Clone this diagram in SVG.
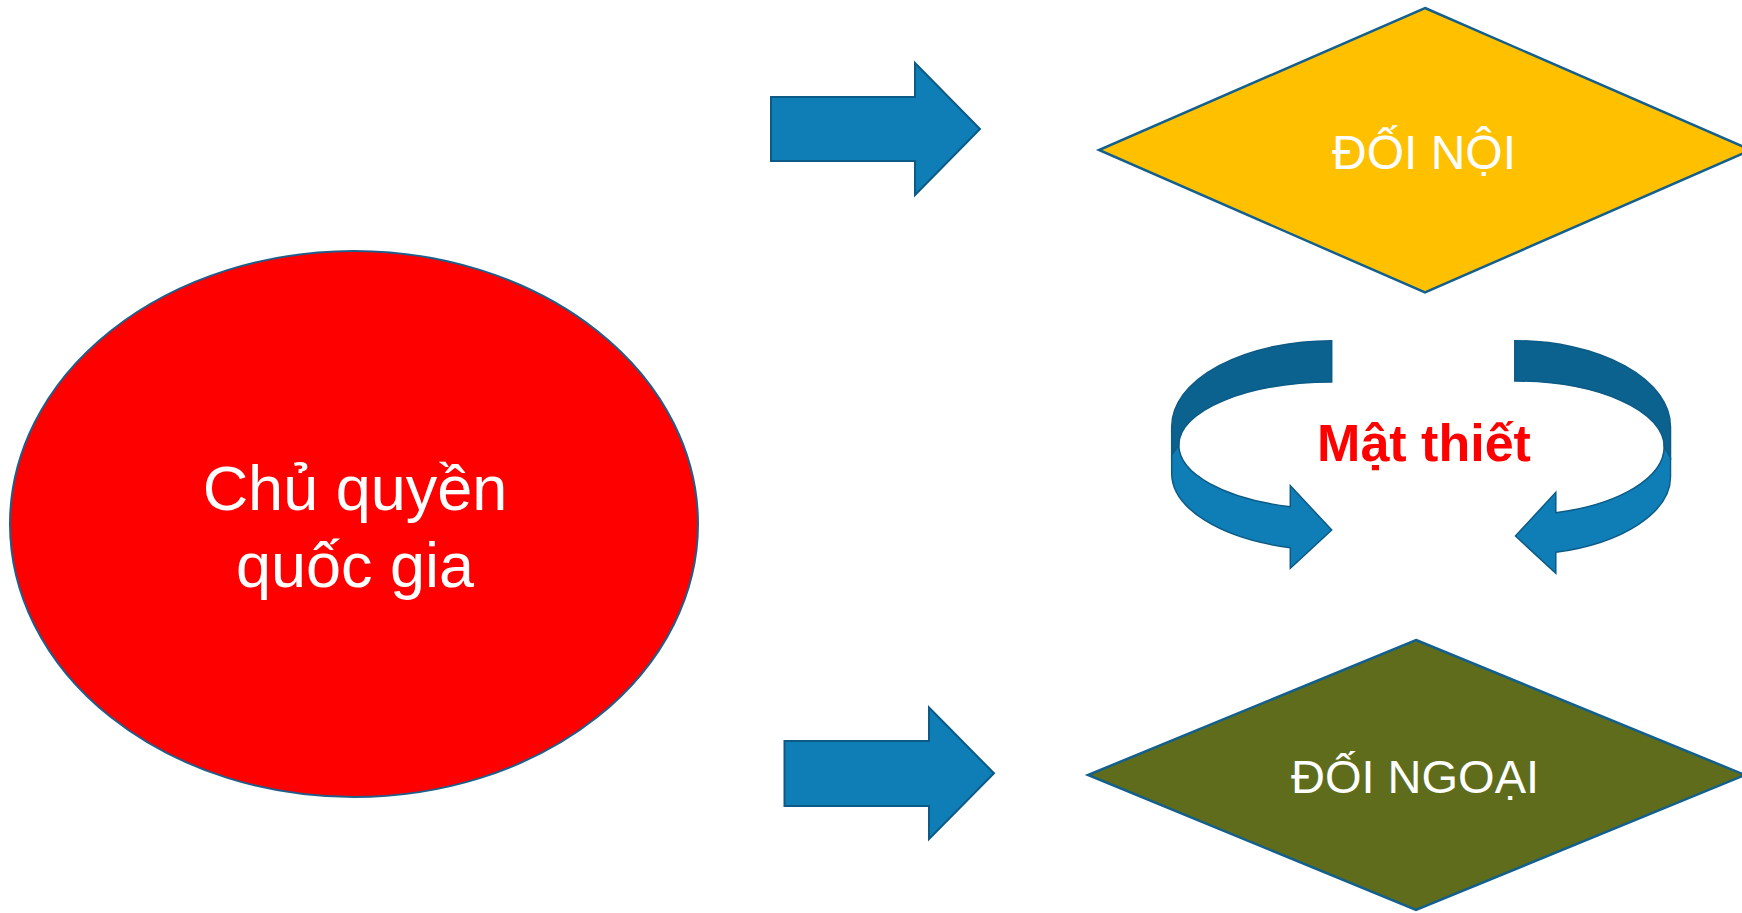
<svg xmlns="http://www.w3.org/2000/svg" width="1742" height="913" viewBox="0 0 1742 913">
<style>
.lbl{font-family:"Liberation Sans",Arial,sans-serif;fill:#FFFFFF;text-anchor:middle}
.arrow{fill:#0F7EB6;stroke:#0C5A86;stroke-width:2;stroke-linejoin:miter}
.dark{fill:#0C628F;stroke:#0C5A86;stroke-width:1.5}
.light{fill:#0F7EB6;stroke:#0C5A86;stroke-width:1.5}
.dia{stroke:#13608E;stroke-width:2.5}
</style>
<rect width="1742" height="913" fill="#FFFFFF"/>
<g id="node-chu-quyen">
<ellipse cx="354" cy="524" rx="344" ry="273" fill="#FF0000" stroke="#1F5E8A" stroke-width="2"/>
<text class="lbl" font-size="63" x="355" y="510">Chủ quyền</text>
<text class="lbl" font-size="63" x="355" y="587">quốc gia</text>
</g>
<g id="node-doi-noi">
<polygon class="dia" points="1425,8 1751,150 1425,292.5 1099,150" fill="#FFC000"/>
<text class="lbl" font-size="48" x="1424" y="169">ĐỐI NỘI</text>
</g>
<g id="node-doi-ngoai">
<polygon class="dia" points="1416,640 1745,775 1416,910 1088,775" fill="#5E6C1B"/>
<text class="lbl" font-size="47" x="1415" y="793">ĐỐI NGOẠI</text>
</g>
<g id="connectors">
<polygon class="arrow" points="771,97 915,97 915,63 980,129 915,195 915,161 771,161"/>
<polygon class="arrow" points="784.5,741 929,741 929,707.5 994,773.3 929,839 929,806 784.5,806"/>
<path class="dark" d="M1331.7,340.7 A160,86 0 0 0 1171.7,426.7 L1171.7,460 L1178.8,445 A152.9,63 0 0 1 1331.7,382 Z"/>
<path class="light" d="M1178.8,445 A152.9,64 0 0 0 1290.3,506.7 L1290.3,485.7 L1331.7,530 L1290.3,568.3 L1290.3,547.7 A160,77 0 0 1 1171.7,473.3 L1171.7,455 Z"/>
<path class="dark" d="M1514.8,340.7 A155.7,86 0 0 1 1670.5,426.7 L1670.5,460 L1664.2,446.7 A149.4,65.7 0 0 0 1514.8,381 Z"/>
<path class="light" d="M1664.2,446.7 A149.4,68.6 0 0 1 1555.8,512.7 L1555.8,492.3 L1515.5,536 L1555.8,573.3 L1555.8,552.3 A155.7,78.3 0 0 0 1670.5,476.7 L1670.5,458 Z"/>
</g>
<g id="label-mat-thiet">
<text x="1424" y="461" font-family="Liberation Sans,Arial,sans-serif" font-weight="bold" font-size="52" fill="#FF0000" text-anchor="middle">Mật thiết</text>
</g>
</svg>
